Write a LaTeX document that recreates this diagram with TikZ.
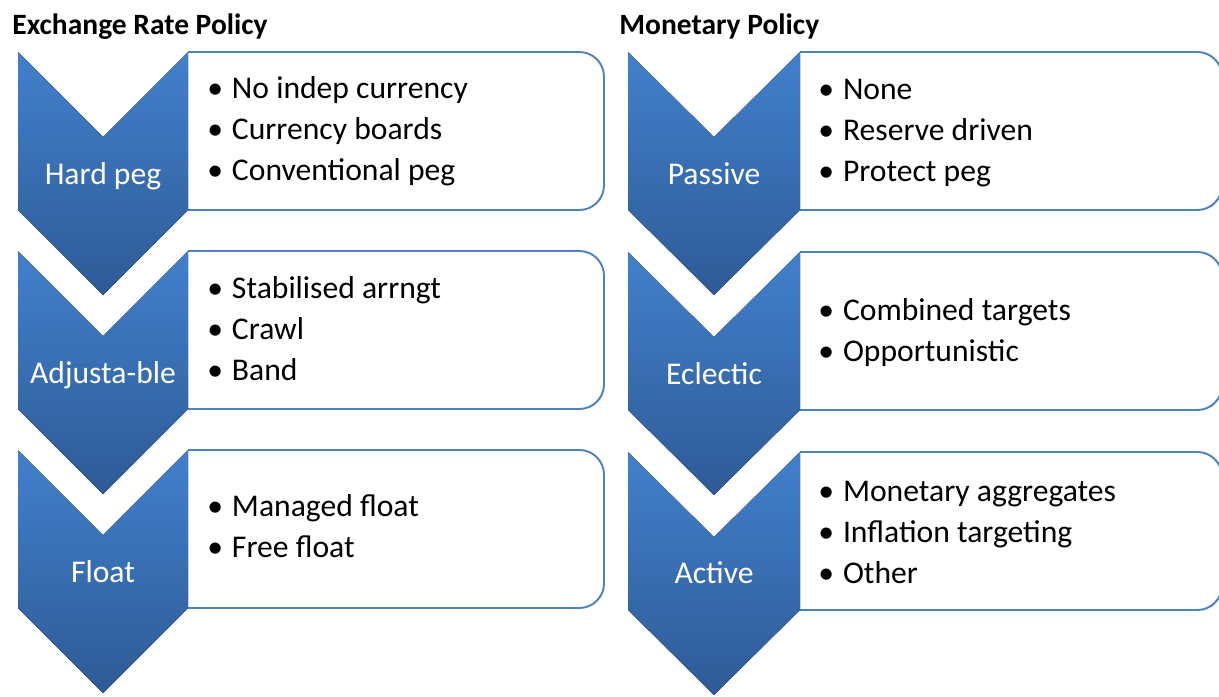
\documentclass[tikz,border=0pt]{standalone}
\usepackage{fontspec}
\setmainfont{Carlito}
\usepackage{xcolor}
\usepackage{tikz}
\usetikzlibrary{positioning}

\definecolor{chevtop}{RGB}{66,128,204}
\definecolor{chevbot}{RGB}{46,90,150}
\definecolor{boxblue}{RGB}{79,129,189}

\newcommand{\bul}{\makebox[0.78em][l]{•}}

\begin{document}
\begin{tikzpicture}[
    x=0.02cm, y=0.02cm,
    chev/.style={top color=chevtop, bottom color=chevbot, draw=none},
    listbox/.style={draw=boxblue, line width=1.1pt, rounded corners=14pt, fill=white},
    items/.style={anchor=base west, align=left, inner sep=0pt, font=\fontsize{18}{23.3}\selectfont},
    tag/.style={anchor=base, inner sep=0pt, text=white, font=\fontsize{18}{22}\selectfont},
    heading/.style={anchor=base west, inner sep=0pt, font=\bfseries\fontsize{16.8}{20}\selectfont}
]
\useasboundingbox (0,0) rectangle (1219,-696);
\clip (0,0) rectangle (1219,-696);

% headings
\node[heading] (erp) at (12,-35) {Exchange Rate Policy};
\node[heading] (mp) at (619,-35) {Monetary Policy};

% list boxes, left column
\draw[listbox] (188,-52) -- (604,-52) -- (604,-210) -- (188,-210);
\draw[listbox] (188,-251) -- (604,-251) -- (604,-409) -- (188,-409);
\draw[listbox] (188,-450) -- (604,-450) -- (604,-608) -- (188,-608);
% list boxes, right column
\draw[listbox] (800,-52) -- (1222,-52) -- (1222,-210) -- (800,-210);
\draw[listbox] (800,-252) -- (1222,-252) -- (1222,-410) -- (800,-410);
\draw[listbox] (800,-452) -- (1222,-452) -- (1222,-610) -- (800,-610);

% chevrons, left column
\fill[chev] (18,-52) -- (103,-137) -- (188,-52) -- (188,-210) -- (103,-295) -- (18,-210) -- cycle;
\fill[chev] (18,-251) -- (103,-336) -- (188,-251) -- (188,-409) -- (103,-494) -- (18,-409) -- cycle;
\fill[chev] (18,-450) -- (103,-535) -- (188,-450) -- (188,-608) -- (103,-693) -- (18,-608) -- cycle;
% chevrons, right column
\fill[chev] (628,-52) -- (714,-137) -- (800,-52) -- (800,-210) -- (714,-295) -- (628,-210) -- cycle;
\fill[chev] (628,-252) -- (714,-337) -- (800,-252) -- (800,-410) -- (714,-495) -- (628,-410) -- cycle;
\fill[chev] (628,-452) -- (714,-537) -- (800,-452) -- (800,-610) -- (714,-695) -- (628,-610) -- cycle;

% chevron labels
\node[tag] (hardpeg) at (103,-184) {Hard peg};
\node[tag] (adjust) at (103,-383) {Adjusta-ble};
\node[tag] (float) at (103,-582) {Float};
\node[tag] (passive) at (714,-184) {Passive};
\node[tag] (eclectic) at (714,-384) {Eclectic};
\node[tag] (active) at (714,-583) {Active};

% bullet lists (anchored on the last line)
\node[items] (hardlist) at (207,-180) {\bul No indep currency\\ \bul Currency boards\\ \bul Conventional peg};
\node[items] (adjustlist) at (207,-380) {\bul Stabilised arrngt\\ \bul Crawl\\ \bul Band};
\node[items] (floatlist) at (207,-557) {\bul Managed float\\ \bul Free float};
\node[items] (passivelist) at (818,-181) {\bul None\\ \bul Reserve driven\\ \bul Protect peg};
\node[items] (eclecticlist) at (818,-361) {\bul Combined targets\\ \bul Opportunistic};
\node[items] (activelist) at (818,-583) {\bul Monetary aggregates\\ \bul Inflation targeting\\ \bul Other};
\end{tikzpicture}
\end{document}
